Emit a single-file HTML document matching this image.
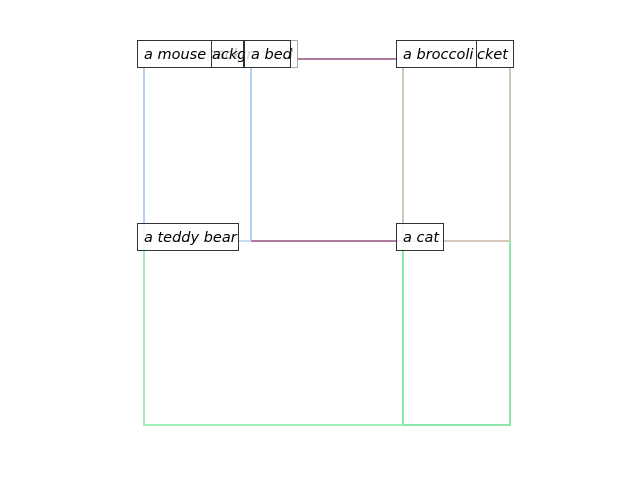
<!DOCTYPE html>
<html><head><style>html,body{margin:0;padding:0;background:#fff;}</style></head>
<body>
<svg width="640" height="480" xmlns="http://www.w3.org/2000/svg" font-family="DejaVu Sans, Liberation Sans, sans-serif" font-style="italic" font-size="14.5">
<g fill="none" stroke-width="2">
<rect x="144" y="59" width="107" height="182" stroke="#b4d0f2"/>
<rect x="403" y="59" width="107" height="182" stroke="#d0c6ba"/>
<rect x="144" y="241" width="259" height="184" stroke="#9ef0b8"/>
<rect x="403" y="241" width="107" height="184" stroke="#8ee8a8"/>
<line x1="403" y1="241" x2="510" y2="241" stroke="#d8c8bc"/>
<line x1="144" y1="241" x2="251" y2="241" stroke="#c4dcf6"/>
<line x1="251" y1="59" x2="403" y2="59" stroke="#b07aa0"/>
<line x1="251" y1="241" x2="403" y2="241" stroke="#b07aa0"/>
</g>
<g>
<rect x="137.5" y="40.5" width="160" height="27" fill="#fff" stroke="#aaa"/>
<text x="144" y="59" fill="#bbb">a dining background</text>
<rect x="137.5" y="40.5" width="74" height="27" fill="#fff" fill-opacity="0.85" stroke="#333"/>
<text x="144" y="59" fill="#000">a mouse</text>
<rect x="211.5" y="40.5" width="32" height="27" fill="none" stroke="#333"/>
<text x="212" y="59" fill="#000">ackgr</text>
<rect x="244.5" y="40.5" width="46" height="27" fill="#fff" fill-opacity="0.85" stroke="#333"/>
<text x="251" y="59" fill="#000">a bed</text>
<rect x="396.5" y="40.5" width="117" height="27" fill="#fff" stroke="#333"/>
<text x="477" y="59" fill="#000">cket</text>
<rect x="396.5" y="40.5" width="80" height="27" fill="#fff" stroke="#333"/>
<text x="403" y="59" fill="#000">a broccoli</text>
<rect x="137.5" y="223.5" width="101" height="27" fill="#fff" fill-opacity="0.85" stroke="#333"/>
<text x="144" y="242" fill="#000">a teddy bear</text>
<rect x="396.5" y="223.5" width="47" height="27" fill="#fff" fill-opacity="0.85" stroke="#333"/>
<text x="403" y="242" fill="#000">a cat</text>
</g>
</svg>
</body></html>
